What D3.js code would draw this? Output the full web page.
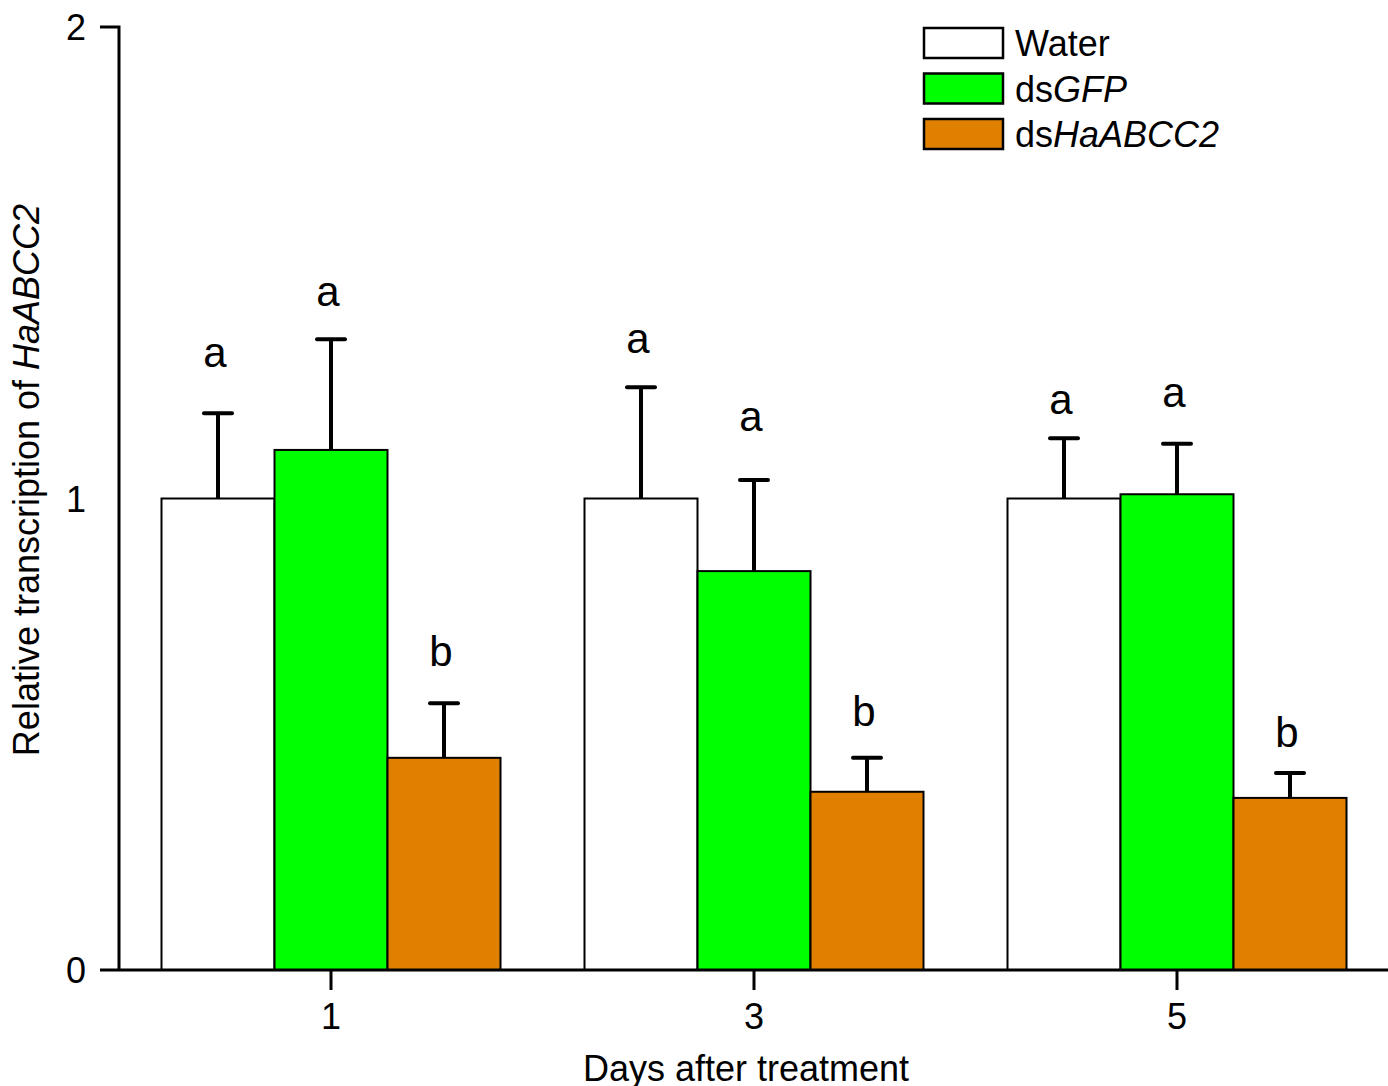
<!DOCTYPE html>
<meta charset="utf-8">
<script src="https://d3js.org/d3.v7.min.js"></script>
<style>
  body { margin: 0; background: #fff; }
  text { font-family: "Liberation Sans", Arial, sans-serif; fill: #000; }
</style>
<body>
<div id="chart"></div>
<script>
// data
var days = ["1", "3", "5"];
var treatments = ["Water", "dsGFP", "dsHaABCC2"];
var water = [1.0, 1.0, 1.0];
var waterErr = [0.181, 0.236, 0.128];
var gfp = [1.103, 0.846, 1.009];
var gfpErr = [0.235, 0.193, 0.107];
var abcc2 = [0.450, 0.378, 0.365];
var abcc2Err = [0.116, 0.072, 0.053];
var letters = [["a", "a", "b"], ["a", "a", "b"], ["a", "a", "b"]];
// height (in data units) of the significance letters
var letterAt = [[1.279, 1.409, 0.644], [1.309, 1.143, 0.518], [1.179, 1.195, 0.472]];
var yTicks = [0, 1, 2];

var colors = ["#ffffff", "#00ff00", "#e08000"];
var series = [water, gfp, abcc2];
var errs = [waterErr, gfpErr, abcc2Err];

var W = 1388, H = 1086;
var svg = d3.select("#chart").append("svg")
  .attr("width", W).attr("height", H);

// groups centred at 331, 754, 1177
var x = d3.scaleBand().domain(days).range([119.5, 1388.5]).padding(0);
var xs = d3.scaleBand().domain(treatments).range([0, 339]);
var y = d3.scaleLinear().domain([0, 2]).range([970, 27]);

var rows = [];
days.forEach(function(d, i) {
  treatments.forEach(function(t, j) {
    rows.push({day: d, t: t, j: j, v: series[j][i], e: errs[j][i],
               letter: letters[i][j], la: letterAt[i][j]});
  });
});

function barX(r) { return x(r.day) + (x.bandwidth() - 339) / 2 + xs(r.t); }

var g = svg.append("g");

// error bars
var eb = g.selectAll(".err").data(rows).enter().append("g");
eb.append("line")
  .attr("x1", function(r) { return barX(r) + xs.bandwidth() / 2; })
  .attr("x2", function(r) { return barX(r) + xs.bandwidth() / 2; })
  .attr("y1", function(r) { return y(r.v); })
  .attr("y2", function(r) { return y(r.v + r.e); })
  .attr("stroke", "#000").attr("stroke-width", 4);
eb.append("line")
  .attr("x1", function(r) { return barX(r) + xs.bandwidth() / 2 - 14; })
  .attr("x2", function(r) { return barX(r) + xs.bandwidth() / 2 + 14; })
  .attr("y1", function(r) { return y(r.v + r.e); })
  .attr("y2", function(r) { return y(r.v + r.e); })
  .attr("stroke", "#000").attr("stroke-width", 4).attr("stroke-linecap", "round");

// bars
g.selectAll(".bar").data(rows).enter().append("rect")
  .attr("x", barX)
  .attr("y", function(r) { return y(r.v); })
  .attr("width", xs.bandwidth())
  .attr("height", function(r) { return y(0) - y(r.v); })
  .attr("fill", function(r) { return colors[r.j]; })
  .attr("stroke", "#000").attr("stroke-width", 2);

// letters
g.selectAll(".lt").data(rows).enter().append("text")
  .attr("x", function(r) { return barX(r) + xs.bandwidth() / 2 - 3; })
  .attr("y", function(r) { return y(r.la); })
  .attr("text-anchor", "middle")
  .attr("font-size", 42)
  .text(function(r) { return r.letter; });

// axes
var yAxis = svg.append("g").attr("transform", "translate(119,0)")
  .call(d3.axisLeft(y).tickValues(yTicks).tickSize(19).tickPadding(14).tickFormat(d3.format("d")));
var xAxis = svg.append("g").attr("transform", "translate(0,970)")
  .call(d3.axisBottom(x).tickSize(20).tickSizeOuter(0).tickPadding(13));
yAxis.select(".domain").attr("d", "M-19,27H0V970").attr("stroke-width", 3).attr("fill", "none");
xAxis.select(".domain").attr("d", "M100,0H1388").attr("stroke-width", 3);
svg.selectAll(".tick line").attr("stroke-width", 3);
svg.selectAll(".tick text").attr("font-size", 36).style("font-family", "'Liberation Sans', Arial, sans-serif").attr("fill", "#000");
yAxis.selectAll(".tick line").remove();
yAxis.selectAll(".tick text").attr("dy", "0.35em");

// axis titles
svg.append("text")
  .attr("x", 746).attr("y", 1081)
  .attr("text-anchor", "middle").attr("font-size", 36)
  .text("Days after treatment");
var yt = svg.append("text")
  .attr("transform", "translate(39,480) rotate(-90)")
  .attr("text-anchor", "middle").attr("font-size", 36);
yt.append("tspan").text("Relative transcription of ");
yt.append("tspan").attr("font-style", "italic").text("HaABCC2");

// legend
var legendParts = [["Water", ""], ["ds", "GFP"], ["ds", "HaABCC2"]];
var lg = svg.append("g").attr("transform", "translate(924,28)");
treatments.forEach(function(t, j) {
  var row = lg.append("g").attr("transform", "translate(0," + (j * 45.5) + ")");
  row.append("rect").attr("width", 79).attr("height", 30)
    .attr("fill", colors[j]).attr("stroke", "#000").attr("stroke-width", 2.5);
  var tx = row.append("text").attr("x", 91).attr("y", 28).attr("font-size", 36);
  tx.append("tspan").text(legendParts[j][0]);
  tx.append("tspan").attr("font-style", "italic").text(legendParts[j][1]);
});
</script>
</body>
